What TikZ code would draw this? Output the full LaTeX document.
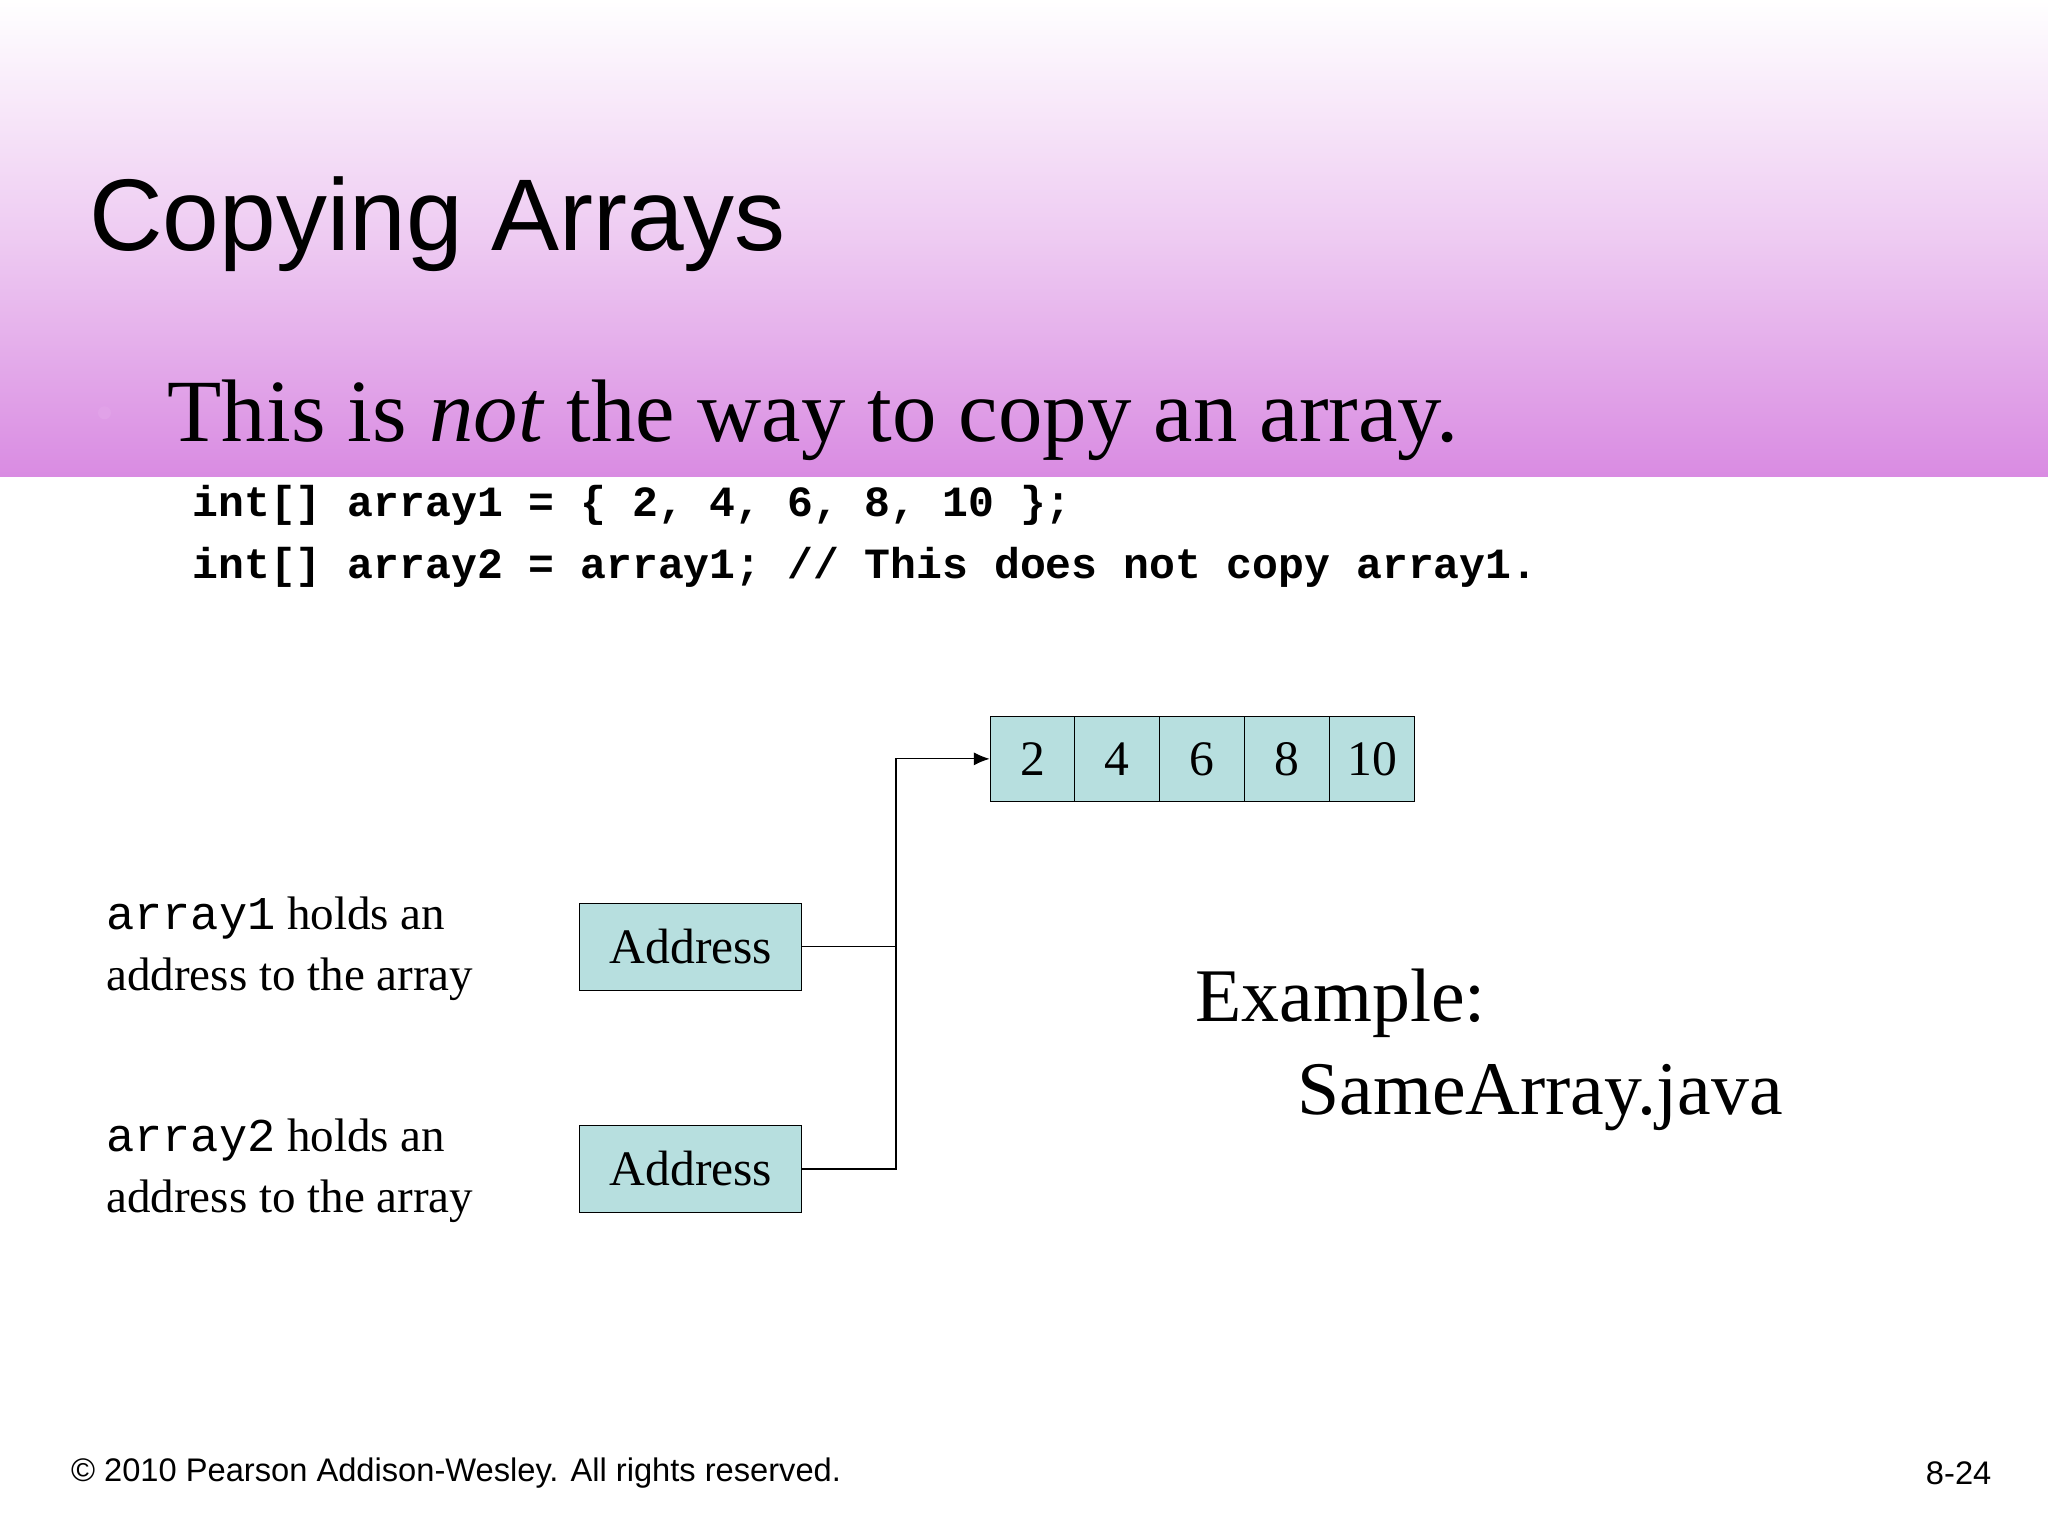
\documentclass[tikz,border=0pt]{standalone}
\usepackage{fontspec}
\setmainfont{Liberation Serif}
\newfontfamily\hel{Liberation Sans}
\newfontfamily\cour{Liberation Mono}
\usetikzlibrary{arrows.meta}
\definecolor{cellc}{HTML}{B7DFDF}
\definecolor{pinkb}{HTML}{D98BE2}
\tikzset{cell/.style={draw,fill=cellc,minimum width=32.5pt,minimum height=32.5pt,inner sep=0pt,font=\fontsize{19}{22}\selectfont},
addr/.style={draw,fill=cellc,minimum width=85pt,minimum height=33pt,inner sep=0pt,font=\fontsize{19}{22}\selectfont},
lbl/.style={anchor=north west,align=left,inner sep=0pt,font=\fontsize{18}{23.5}\selectfont},
code/.style={anchor=west,inner sep=0pt,font=\cour\bfseries\fontsize{16.5}{18}\selectfont}}
\begin{document}
\begin{tikzpicture}[x=0.5pt,y=-0.5pt]
\useasboundingbox (0,0) rectangle (1568,1176);
\fill[white] (0,0) rectangle (1568,1176);
\shade[top color=white,bottom color=pinkb,middle color=pinkb!45] (0,0) rectangle (1568,365);
\node[anchor=west,inner sep=0pt,font=\hel\fontsize{39}{44}\selectfont] (title) at (68,172) {Copying Arrays};
\fill[pinkb!80] (80,316) circle (5);
\node[anchor=west,inner sep=0pt,font=\fontsize{34}{40}\selectfont] (bul) at (128,322) {This is \textit{not} the way to copy an array.};
\node[code] (c1) at (147,387) {int[] array1 = \{ 2, 4, 6, 8, 10 \};};
\node[code] (c2) at (147,434) {int[] array2 = array1; // This does not copy array1.};
\foreach \v [count=\i] in {2,4,6,8,10}
  \node[cell] (a\i) at (758+65*\i-32.5,581) {\v};
\node[addr] (ad1) at (529,725) {Address};
\node[addr] (ad2) at (529,895) {Address};
\coordinate (j) at (686,725);
\draw (ad1.east) -- (j);
\draw (ad2.east) -| (686,581);
\draw[-{Latex[length=6pt,width=5pt]}] (686,725) |- (a1.west);
\node[lbl] (l1) at (81,686) {{\cour array1} holds an\\address to the array};
\node[lbl] (l2) at (81,856) {{\cour array2} holds an\\address to the array};
\node[anchor=west,inner sep=0pt,font=\fontsize{29}{34}\selectfont] (ex) at (915,768) {Example:};
\node[anchor=west,inner sep=0pt,font=\fontsize{29}{34}\selectfont] (ex2) at (993,840) {SameArray.java};
\node[anchor=west,inner sep=0pt,font=\hel\fontsize{12.5}{14}\selectfont] (f1) at (54,1128) {\textcopyright{} 2010 Pearson Addison-Wesley. All rights reserved.};
\node[anchor=east,inner sep=0pt,font=\hel\fontsize{12.5}{14}\selectfont] (f2) at (1525,1128) {8-24};
\end{tikzpicture}
\end{document}
